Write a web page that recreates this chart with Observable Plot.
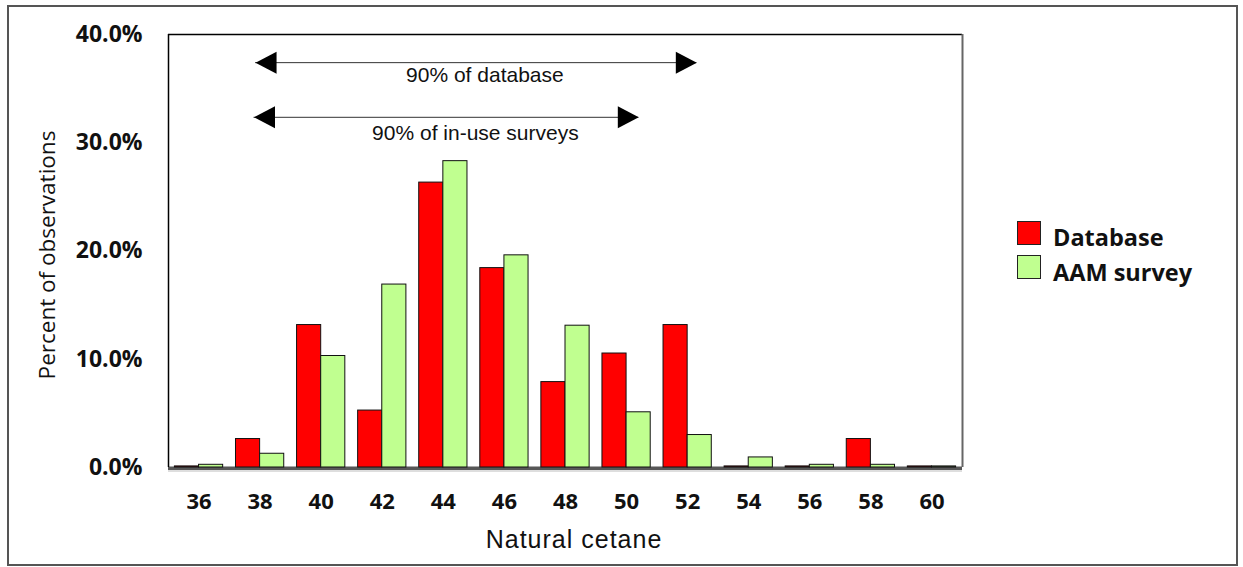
<!DOCTYPE html>
<html>
<head>
<meta charset="utf-8">
<script src="https://cdn.jsdelivr.net/npm/d3@7"></script>
<script src="https://cdn.jsdelivr.net/npm/@observablehq/plot@0.6"></script>
<style>
  body { margin: 0; background: #fff; }
  #wrap { position: relative; width: 1243px; height: 567px; overflow: hidden; background: #fff; }
  #border { position: absolute; left: 7px; top: 5px; width: 1231px; height: 561px; box-sizing: border-box; border: 2px solid #555; }
  #chart { position: absolute; left: 0; top: 0; }
  .ylab { position: absolute; left: 46px; top: 255px; transform: translate(-50%, -50%) rotate(-90deg); white-space: nowrap;
          font: 22.5px "Open Sans", sans-serif; color: #111; }
  .xlab { position: absolute; left: 574px; top: 539px; transform: translate(-50%, -50%); white-space: nowrap;
          font: 25px "Liberation Sans", Arial, sans-serif; letter-spacing: 1px; color: #111; line-height: 1; }
  .sw { position: absolute; left: 1017px; width: 24px; height: 24px; box-sizing: border-box; border: 1px solid #222; }
  .lt { position: absolute; left: 1053px; transform: translateY(-50%); white-space: nowrap; line-height: 1;
        font: bold 23.5px "Open Sans", sans-serif; color: #111; }
  #chart svg g[aria-label="y-axis tick label"] text { font: bold 23px "Open Sans", sans-serif; fill: #111; }
  #chart svg g[aria-label="x-axis tick label"] text { font: bold 22px "Open Sans", sans-serif; fill: #111; }
</style>
</head>
<body>
<div id="wrap">
  <div id="chart"></div>
  <div id="border"></div>
  <div class="ylab">Percent of observations</div>
  <div class="xlab">Natural cetane</div>
  <div id="legend"></div>
</div>
<script>
// ---- data ----
const cetane = [36, 38, 40, 42, 44, 46, 48, 50, 52, 54, 56, 58, 60];
const database = [0.1, 2.63, 13.16, 5.26, 26.32, 18.42, 7.89, 10.53, 13.16, 0.1, 0.1, 2.63, 0.1];
const aamSurvey = [0.25, 1.27, 10.3, 16.9, 28.3, 19.6, 13.1, 5.1, 3.0, 0.93, 0.25, 0.25, 0.1];
const seriesNames = ["Database", "AAM survey"];
const seriesColors = ["#ff0000", "#c0ff90"];
const yTicks = [0, 10, 20, 30, 40];

// range annotations (cetane values of arrow tips, % level)
const arrowLabels = ["90% of database", "90% of in-use surveys"];
const arrowStart = [37.85, 37.8];
const arrowEnd = [52.3, 50.4];
const arrowLevel = [37.4, 32.35];
const arrowTextX = [45.36, 45.05];
const arrowTextLevel = [36.2, 30.83];

// ---- build tables ----
const barW = 0.79;
const rows = [];
cetane.forEach((c, i) => {
  rows.push({c, series: seriesNames[0], v: database[i], x1: c - barW, x2: c});
  rows.push({c, series: seriesNames[1], v: aamSurvey[i], x1: c, x2: c + barW});
});
const arrows = arrowLabels.map((label, i) => ({
  label, from: arrowStart[i], to: arrowEnd[i], y: arrowLevel[i], tx: arrowTextX[i], ty: arrowTextLevel[i]
}));

const headRight = {draw(ctx) { ctx.moveTo(0, 0); ctx.lineTo(-21, -11); ctx.lineTo(-21, 11); ctx.closePath(); }};
const headLeft = {draw(ctx) { ctx.moveTo(0, 0); ctx.lineTo(21, -11); ctx.lineTo(21, 11); ctx.closePath(); }};

const chart = Plot.plot({
  width: 1243,
  height: 567,
  marginLeft: 168,
  marginRight: 281,
  marginTop: 34,
  marginBottom: 100,
  style: {background: "transparent", overflow: "visible"},
  x: {domain: [35, 61]},
  y: {domain: [0, 40]},
  color: {domain: seriesNames, range: seriesColors},
  marks: [
    Plot.ruleY([0], {stroke: "#bdbdbd", strokeWidth: 1, dy: 3.5}),
    Plot.ruleY([0], {stroke: "#575757", strokeWidth: 3.5, dy: 0.8}),
    Plot.rectY(rows, {x1: "x1", x2: "x2", y: "v", fill: "series", stroke: "#111", strokeWidth: 1}),
    Plot.ruleX([35], {stroke: "#000", strokeWidth: 1.5}),
    Plot.ruleY([40], {stroke: "#000", strokeWidth: 1.5}),
    Plot.ruleX([61], {stroke: "#666", strokeWidth: 2}),
    Plot.ruleY(arrows, {y: "y", x1: "from", x2: "to", stroke: "#333", strokeWidth: 1}),
    Plot.dot(arrows, {x: "to", y: "y", symbol: headRight, fill: "#000", stroke: "none"}),
    Plot.dot(arrows, {x: "from", y: "y", symbol: headLeft, fill: "#000", stroke: "none"}),
    Plot.text(arrows, {x: "tx", y: "ty", text: "label", fontSize: 21, fontFamily: "Liberation Sans, Arial, sans-serif", fill: "#111"}),
    Plot.axisX({ticks: cetane, tickSize: 0, tickPadding: 26, tickFormat: d => String(d), label: null}),
    Plot.axisY({ticks: yTicks, tickSize: 0, tickPadding: 26, tickFormat: d => d.toFixed(1) + "%", label: null})
  ]
});
document.getElementById("chart").appendChild(chart);

// legend (HTML)
const legend = document.getElementById("legend");
const swTops = [221, 255];
const txtCenters = [237, 272];
seriesNames.forEach((name, i) => {
  const sw = document.createElement("div");
  sw.className = "sw";
  sw.style.top = swTops[i] + "px";
  sw.style.background = seriesColors[i];
  legend.appendChild(sw);
  const t = document.createElement("div");
  t.className = "lt";
  t.style.top = txtCenters[i] + "px";
  t.textContent = name;
  legend.appendChild(t);
});
</script>
</body>
</html>
